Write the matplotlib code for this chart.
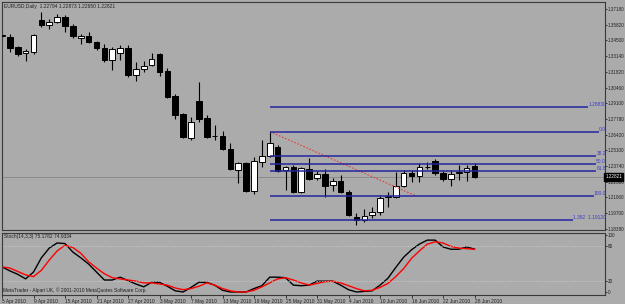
import numpy as np
import matplotlib
matplotlib.use("Agg")
import matplotlib.pyplot as plt
import matplotlib.transforms as mtransforms

plt.rcParams['font.family'] = ['Liberation Sans', 'DejaVu Sans']

# EURUSD daily bars, 5 Apr 2010 .. 28 Jun 2010
opens = [1.3490, 1.3479, 1.3393, 1.3342, 1.3350, 1.3624, 1.3581, 1.3607, 1.3650, 1.3573,
         1.3470, 1.3487, 1.3436, 1.3385, 1.3282, 1.3342, 1.3385, 1.3154, 1.3205, 1.3239,
         1.3333, 1.3188, 1.2974, 1.2820, 1.2615, 1.2931, 1.2786, 1.2628, 1.2632, 1.2521,
         1.2341, 1.2401, 1.2162, 1.2410, 1.2461, 1.2538, 1.2341, 1.2367, 1.2153, 1.2350,
         1.2273, 1.2307, 1.2213, 1.2247, 1.2153, 1.1940, 1.1914, 1.1957, 1.1982, 1.2111,
         1.2111, 1.2205, 1.2316, 1.2290, 1.2367, 1.2418, 1.2316, 1.2264, 1.2316, 1.2324,
         1.2376]
highs = [1.3521, 1.3504, 1.3402, 1.3376, 1.3504, 1.3692, 1.3632, 1.3675, 1.3667, 1.3590,
         1.3504, 1.3521, 1.3444, 1.3419, 1.3393, 1.3410, 1.3410, 1.3265, 1.3273, 1.3342,
         1.3342, 1.3214, 1.2991, 1.2829, 1.2795, 1.3094, 1.2812, 1.2726, 1.2675, 1.2572,
         1.2410, 1.2410, 1.2453, 1.2598, 1.2666, 1.2555, 1.2376, 1.2384, 1.2367, 1.2444,
         1.2333, 1.2350, 1.2273, 1.2299, 1.2170, 1.1974, 1.2008, 1.2025, 1.2128, 1.2153,
         1.2324, 1.2341, 1.2341, 1.2401, 1.2410, 1.2436, 1.2333, 1.2341, 1.2384, 1.2384,
         1.2401]
lows = [1.3470, 1.3350, 1.3316, 1.3273, 1.3333, 1.3564, 1.3547, 1.3600, 1.3521, 1.3470,
        1.3419, 1.3427, 1.3367, 1.3265, 1.3196, 1.3282, 1.3137, 1.3102, 1.3179, 1.3231,
        1.3145, 1.2957, 1.2777, 1.2615, 1.2598, 1.2752, 1.2615, 1.2598, 1.2512, 1.2341,
        1.2230, 1.2153, 1.2136, 1.2367, 1.2453, 1.2324, 1.2170, 1.2145, 1.2145, 1.2256,
        1.2256, 1.2111, 1.2162, 1.2145, 1.1948, 1.1872, 1.1897, 1.1931, 1.1957, 1.2025,
        1.2102, 1.2196, 1.2239, 1.2239, 1.2350, 1.2299, 1.2247, 1.2205, 1.2256, 1.2247,
        1.2273]
closes = [1.3496, 1.3385, 1.3333, 1.3359, 1.3496, 1.3581, 1.3607, 1.3650, 1.3573, 1.3487,
          1.3487, 1.3436, 1.3385, 1.3282, 1.3376, 1.3385, 1.3154, 1.3205, 1.3231, 1.3290,
          1.3179, 1.2966, 1.2812, 1.2624, 1.2752, 1.2777, 1.2624, 1.2632, 1.2521, 1.2350,
          1.2401, 1.2162, 1.2418, 1.2461, 1.2572, 1.2333, 1.2367, 1.2153, 1.2359, 1.2264,
          1.2307, 1.2205, 1.2247, 1.2153, 1.1957, 1.1914, 1.1948, 1.1982, 1.2102, 1.2119,
          1.2205, 1.2316, 1.2290, 1.2367, 1.2370, 1.2316, 1.2264, 1.2307, 1.2324, 1.2359,
          1.2282]

# Stoch(14,3,3)
stoch_k = [44, 37, 31, 23, 35, 60, 77, 86, 85, 70, 60, 49, 35, 21, 21, 26, 20, 14, 9, 17,
           17, 10, 2, 0, 8, 17, 17, 12, 3, 0, 0, 0, 6, 11, 26, 26, 25, 12, 11, 12,
           19, 19, 19, 12, 4, 0, 1, 2, 12, 24, 43, 61, 74, 84, 91, 91, 79, 75, 75, 79,
           75.18]
stoch_d = [44, 42, 36, 30, 27, 38, 56, 72, 82, 78, 68, 53, 42, 32, 25, 23, 21, 19, 16, 16,
           14, 12, 7, 4, 6, 10, 16, 12, 6, 2, 0, 0, 3, 9, 16, 23, 25, 21, 16, 12,
           15, 18, 19, 16, 11, 6, 2, 3, 8, 15, 27, 41, 59, 72, 84, 88, 86, 80, 77, 76,
           74.93]
stoch_header = [75.1782, 74.9334]

date_bars = [0, 4, 8, 12, 16, 20, 24, 28, 32, 36, 40, 44, 48, 52, 56, 60]
date_labels = ["5 Apr 2010", "9 Apr 2010", "15 Apr 2010", "21 Apr 2010", "27 Apr 2010",
               "3 May 2010", "7 May 2010", "13 May 2010", "19 May 2010", "25 May 2010",
               "31 May 2010", "4 Jun 2010", "10 Jun 2010", "16 Jun 2010", "22 Jun 2010",
               "28 Jun 2010"]

price_ticks = [1.37180, 1.35820, 1.34500, 1.33140, 1.31820, 1.30460, 1.29100, 1.27780,
               1.26420, 1.25100, 1.23740, 1.22380, 1.21060, 1.19700, 1.18380]
header_ohlc = [1.22794, 1.22873, 1.22650, 1.22821]
last_price = 1.22821

# fibonacci retracement drawn from the 20 May high
fib_start_bar = 34
fib_end_bar = 52.5
fib_prices = [1.28830, 1.26700, 1.24605, 1.23958, 1.23311, 1.21215, 1.19120]
fib_labels = ["1.28830", "0.0", "38.2", "50.0", "61.8", "100.0", "1.382  1.19120"]

bg = '#ababab'
fs = 3.5
tfs = 3.3
blue = '#2424a0'

fig = plt.figure(figsize=(6.25, 3.04), dpi=100, facecolor=bg)
ax = fig.add_axes([2/625, 1 - 230/304, 603/625, 228/304], facecolor=bg)
ax2 = fig.add_axes([2/625, 1 - 295/304, 603/625, 62/304], facecolor=bg)

x = np.arange(len(opens))
o = np.array(opens); h = np.array(highs); l = np.array(lows); c = np.array(closes)
up = c >= o

ax.vlines(x, l, h, color='black', lw=0.8, zorder=2)
ax.bar(x, np.abs(c - o), bottom=np.minimum(o, c), width=0.7,
       color=np.where(up, 'white', 'black'), edgecolor='black', lw=0.7, zorder=3)

ax.axhline(last_price, color='#8c8c8c', lw=0.7, zorder=1)

ax.set_xlim(0, 76.57)
ax.set_ylim(1.1828, 1.3778)

# fib lines + labels
ax.plot([fib_start_bar, fib_end_bar], [fib_prices[1], fib_prices[5]],
        color='#e04040', lw=0.8, ls=(0, (1.5, 1.5)), zorder=4)
lab_tr = mtransforms.blended_transform_factory(ax.transAxes, ax.transData)
fib_texts = []
for p, s in zip(fib_prices, fib_labels):
    t = ax.text(1.0015, p, s, transform=lab_tr, ha='right', va='bottom',
                fontsize=fs, color='#3c3cc8', clip_on=False, zorder=5)
    fib_texts.append(t)
fig.canvas.draw()
inv = ax.transData.inverted()
for p, t in zip(fib_prices, fib_texts):
    bb = t.get_window_extent()
    xe = inv.transform((bb.x0, 0))[0]
    ax.hlines(p, fib_start_bar, xe, color=blue, lw=1.1, zorder=4)

ax.yaxis.tick_right()
ax.set_yticks(price_ticks)
ax.set_yticklabels(["%.5f" % v for v in price_ticks])
ax.tick_params(axis='y', labelsize=tfs, length=1.6, width=0.6, pad=0.6, colors='#202020')
ax.set_xticks([])

ax.text(1.001, last_price, "%.5f" % last_price, transform=lab_tr, ha='left', va='center',
        fontsize=tfs, color='white', clip_on=False, zorder=6,
        bbox=dict(boxstyle='square,pad=0.25', fc='black', ec='black'))

ax.text(0.003, 0.993, "EURUSD,Daily  %.5f %.5f %.5f %.5f" % tuple(header_ohlc),
        transform=ax.transAxes, ha='left', va='top', fontsize=fs, color='#202020')

# stochastic panel
ax2.plot(x, stoch_k, color='black', lw=1.0)
ax2.plot(x, stoch_d, color='red', lw=1.0)
for lv in (20, 80):
    ax2.axhline(lv, color='#cfcfcf', lw=0.5, ls=(0, (2, 2)))
ax2.set_xlim(0, 76.57)
ax2.set_ylim(-5.3, 103.5)
ax2.yaxis.tick_right()
ax2.set_yticks([0, 20, 80, 100])
ax2.set_yticklabels(["0", "20", "80", "100"])
ax2.tick_params(axis='y', labelsize=tfs, length=1.6, width=0.6, pad=0.6, colors='#202020')
ax2.set_xticks(date_bars)
ax2.set_xticklabels(date_labels)
for tl in ax2.get_xticklabels():
    tl.set_ha('left')
ax2.tick_params(axis='x', labelsize=fs, length=2, width=0.6, pad=1, colors='#202020')
ax2.text(0.003, 0.985, "Stoch(14,3,3) %.4f %.4f" % tuple(stoch_header), transform=ax2.transAxes,
         ha='left', va='top', fontsize=fs, color='#202020')
ax2.text(0.002, 0.03, "MetaTrader - Alpari UK, \u00a9 2001-2010 MetaQuotes Software Corp.",
         transform=ax2.transAxes, ha='left', va='bottom', fontsize=fs, color='#202020')

for a in (ax, ax2):
    for sp in a.spines.values():
        sp.set_color('#3a3a3a')
        sp.set_linewidth(0.8)

fig.savefig('out.png', dpi=100, facecolor=bg)
